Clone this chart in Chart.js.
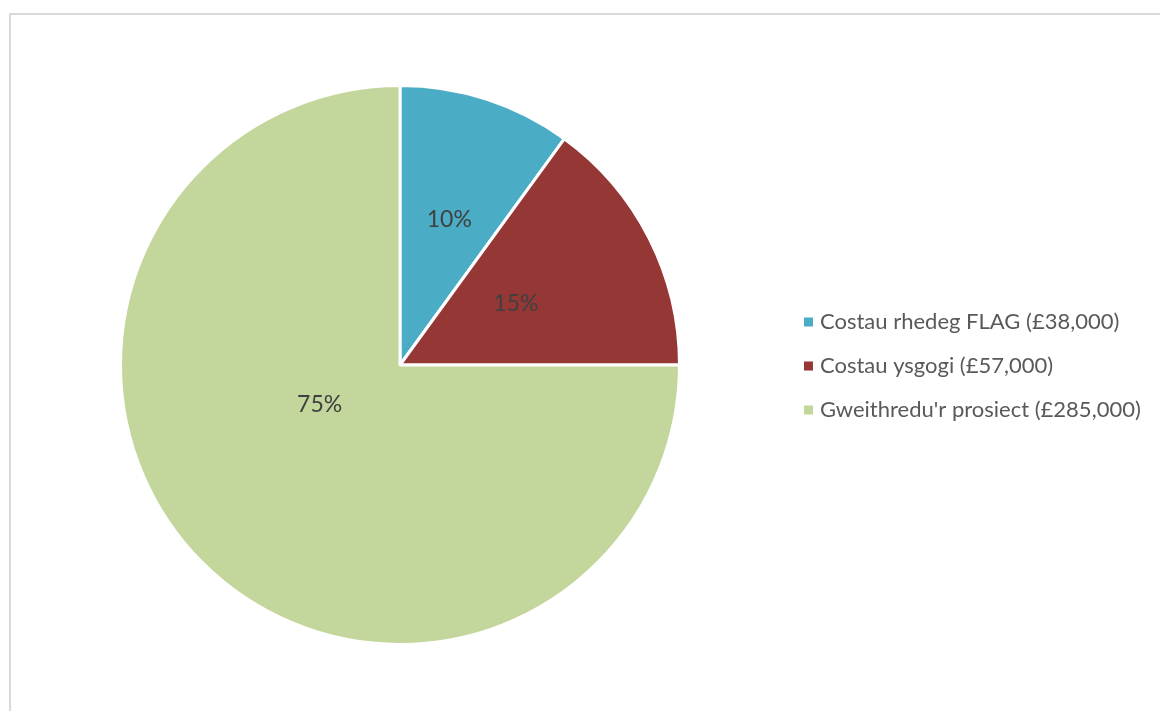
<!DOCTYPE html>
<html>
<head>
<meta charset="utf-8">
<script src="https://cdn.jsdelivr.net/npm/chart.js@4.4.1/dist/chart.umd.min.js"></script>
<style>
  html, body { margin: 0; padding: 0; background: #ffffff; }
  #wrap { position: relative; width: 1160px; height: 711px; overflow: hidden; }
  #frame { position: absolute; left: 9px; top: 13px; width: 1200px; height: 760px; border: 2px solid #d9d9d9; box-sizing: border-box; }
  canvas { position: absolute; left: 0; top: 0; }
</style>
</head>
<body>
<div id="wrap">
  <div id="frame"></div>
  <canvas id="c" width="1160" height="711"></canvas>
</div>
<script>
const categories = ["Costau rhedeg FLAG (£38,000)", "Costau ysgogi (£57,000)", "Gweithredu'r prosiect (£285,000)"];
const values = [38000, 57000, 285000];
const percentLabels = ["10%", "15%", "75%"];
const colors = ["#4BACC6", "#953735", "#C3D69B"];

// label placement style: fraction along slice angle, fraction of radius
const labelAngleFrac = [0.52, 0.48, 0.57];
const labelRadiusFrac = [0.55, 0.47, 0.32];

const FONT = "Lato, 'Open Sans', sans-serif";

const labelPlugin = {
  id: 'sliceLabels',
  afterDatasetsDraw(chart) {
    const ctx = chart.ctx;
    const meta = chart.getDatasetMeta(0);
    ctx.save();
    ctx.font = "23px " + FONT;
    ctx.fillStyle = "#404040";
    ctx.textAlign = "center";
    ctx.textBaseline = "middle";
    meta.data.forEach((arc, i) => {
      const p = arc.getProps(['x', 'y', 'startAngle', 'endAngle', 'outerRadius'], true);
      const a = p.startAngle + (p.endAngle - p.startAngle) * labelAngleFrac[i];
      const r = p.outerRadius * labelRadiusFrac[i];
      ctx.fillText(percentLabels[i], p.x + r * Math.cos(a), p.y + r * Math.sin(a));
    });
    ctx.restore();
  }
};

const legendPlugin = {
  id: 'sideLegend',
  afterDraw(chart) {
    const ctx = chart.ctx;
    const x0 = 804, y0 = 322, step = 44, box = 9;
    ctx.save();
    ctx.font = "22px " + FONT;
    ctx.textBaseline = "middle";
    ctx.textAlign = "left";
    chart.data.labels.forEach((lab, i) => {
      const y = y0 + i * step;
      ctx.fillStyle = chart.data.datasets[0].backgroundColor[i];
      ctx.fillRect(x0, y - box / 2, box, box);
      ctx.fillStyle = "#595959";
      ctx.fillText(lab, x0 + 16, y);
    });
    ctx.restore();
  }
};

new Chart(document.getElementById('c'), {
  type: 'pie',
  data: {
    labels: categories,
    datasets: [{
      data: values,
      backgroundColor: colors,
      borderColor: "#ffffff",
      borderWidth: 3,
      hoverOffset: 0
    }]
  },
  options: {
    responsive: false,
    animation: false,
    events: [],
    layout: { padding: { left: 119, right: 479, top: 84, bottom: 65 } },
    plugins: {
      legend: { display: false },
      tooltip: { enabled: false }
    }
  },
  plugins: [labelPlugin, legendPlugin]
});
</script>
</body>
</html>
